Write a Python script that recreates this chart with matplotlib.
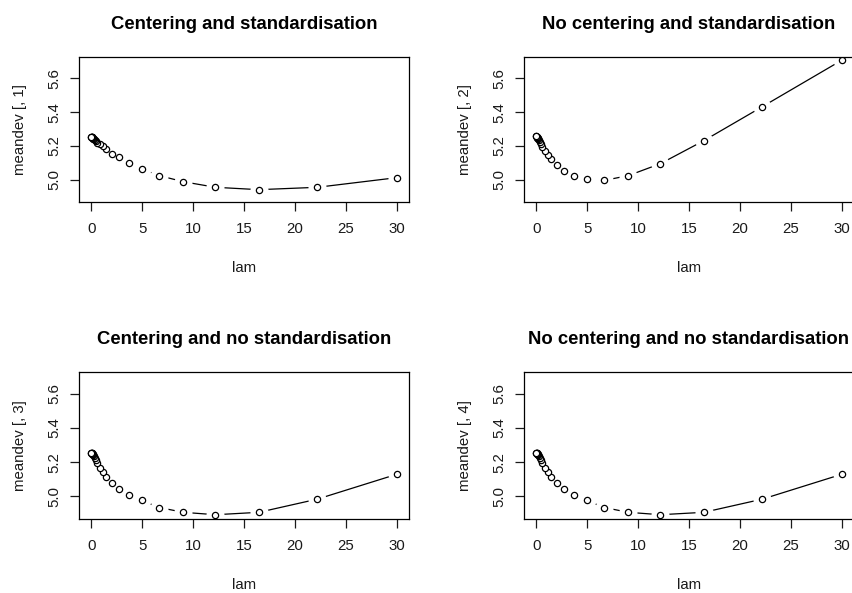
"""Mean deviance against lambda for four preprocessing settings."""
import matplotlib
matplotlib.use("Agg")
import matplotlib.pyplot as plt

plt.rcParams['font.family'] = ['Liberation Sans', 'DejaVu Sans']

# lambda grid (read from the x positions of the points)
lam = [30.0, 22.2, 16.46, 12.2, 9.04, 6.69, 4.96, 3.67, 2.72, 2.02, 1.49,
       1.11, 0.82, 0.61, 0.45, 0.33, 0.25, 0.18, 0.14, 0.10, 0.07, 0.05,
       0.04, 0.03, 0.02, 0.01]

meandev_1 = [5.012, 4.955, 4.941, 4.955, 4.988, 5.024, 5.063, 5.099, 5.132,
             5.152, 5.182, 5.199, 5.211, 5.220, 5.228, 5.234, 5.239, 5.243,
             5.246, 5.248, 5.250, 5.252, 5.253, 5.254, 5.255, 5.255]
meandev_2 = [5.707, 5.432, 5.231, 5.095, 5.024, 4.996, 5.004, 5.024, 5.051,
             5.089, 5.120, 5.146, 5.172, 5.195, 5.212, 5.225, 5.234, 5.241,
             5.246, 5.249, 5.251, 5.253, 5.254, 5.255, 5.256, 5.256]
meandev_3 = [5.129, 4.984, 4.907, 4.893, 4.907, 4.935, 4.976, 5.010, 5.046,
             5.081, 5.115, 5.143, 5.168, 5.192, 5.210, 5.224, 5.233, 5.240,
             5.245, 5.248, 5.250, 5.252, 5.253, 5.254, 5.255, 5.255]
meandev_4 = [5.129, 4.984, 4.907, 4.893, 4.907, 4.935, 4.976, 5.010, 5.046,
             5.081, 5.115, 5.143, 5.168, 5.192, 5.210, 5.224, 5.233, 5.240,
             5.245, 5.248, 5.250, 5.252, 5.253, 5.254, 5.255, 5.255]

titles = ["Centering and standardisation",
          "No centering and standardisation",
          "Centering and no standardisation",
          "No centering and no standardisation"]
ylabels = ["meandev [, 1]", "meandev [, 2]", "meandev [, 3]", "meandev [, 4]"]
xticks = [0, 5, 10, 15, 20, 25, 30]
yticks = [5.0, 5.2, 5.4, 5.6]

W, H = 853, 593
fig = plt.figure(figsize=(W / 100, H / 100), dpi=100)

# axes boxes in pixels: left, top, right, bottom
boxes = [(79, 57, 409, 202), (524, 57, 854, 202),
         (79, 372, 409, 519), (524, 372, 854, 519)]
series = [meandev_1, meandev_2, meandev_3, meandev_4]
txt = '#1a1a1a'

for (l, t, r, b), y, title, ylab in zip(boxes, series, titles, ylabels):
    ax = fig.add_axes([l / W, 1 - b / H, (r - l) / W, (b - t) / H])
    # type = "b": line with gaps around the points
    ax.plot(lam, y, color='black', lw=0.9, zorder=2)
    ax.plot(lam, y, ls='none', marker='o', ms=13, mfc='white', mec='none',
            zorder=2.1)
    ax.plot(lam, y, ls='none', marker='o', ms=4.5, mfc='white', mec='black',
            mew=0.9, zorder=2.2)
    ax.set_xlim(-1.2, 31.2)
    ax.set_ylim(4.868, 5.726)
    ax.set_xticks(xticks)
    ax.set_xticklabels([str(v) for v in xticks])
    ax.set_yticks(yticks)
    ax.set_yticklabels([f"{v:.1f}" for v in yticks], rotation=90, va='center')
    ax.tick_params(length=6.7, width=0.9, colors=txt, labelsize=10.8, pad=8)
    ax.tick_params(axis='y', pad=6)
    for s in ax.spines.values():
        s.set_linewidth(0.9)
    ax.set_title(title, fontsize=13.3, fontweight='bold', pad=20.5, color='black')
    ax.set_xlabel("lam", fontsize=10.8, labelpad=18, color=txt)
    ax.set_ylabel(ylab, fontsize=10.8, labelpad=15, color=txt)

fig.savefig("out.png", dpi=100)
